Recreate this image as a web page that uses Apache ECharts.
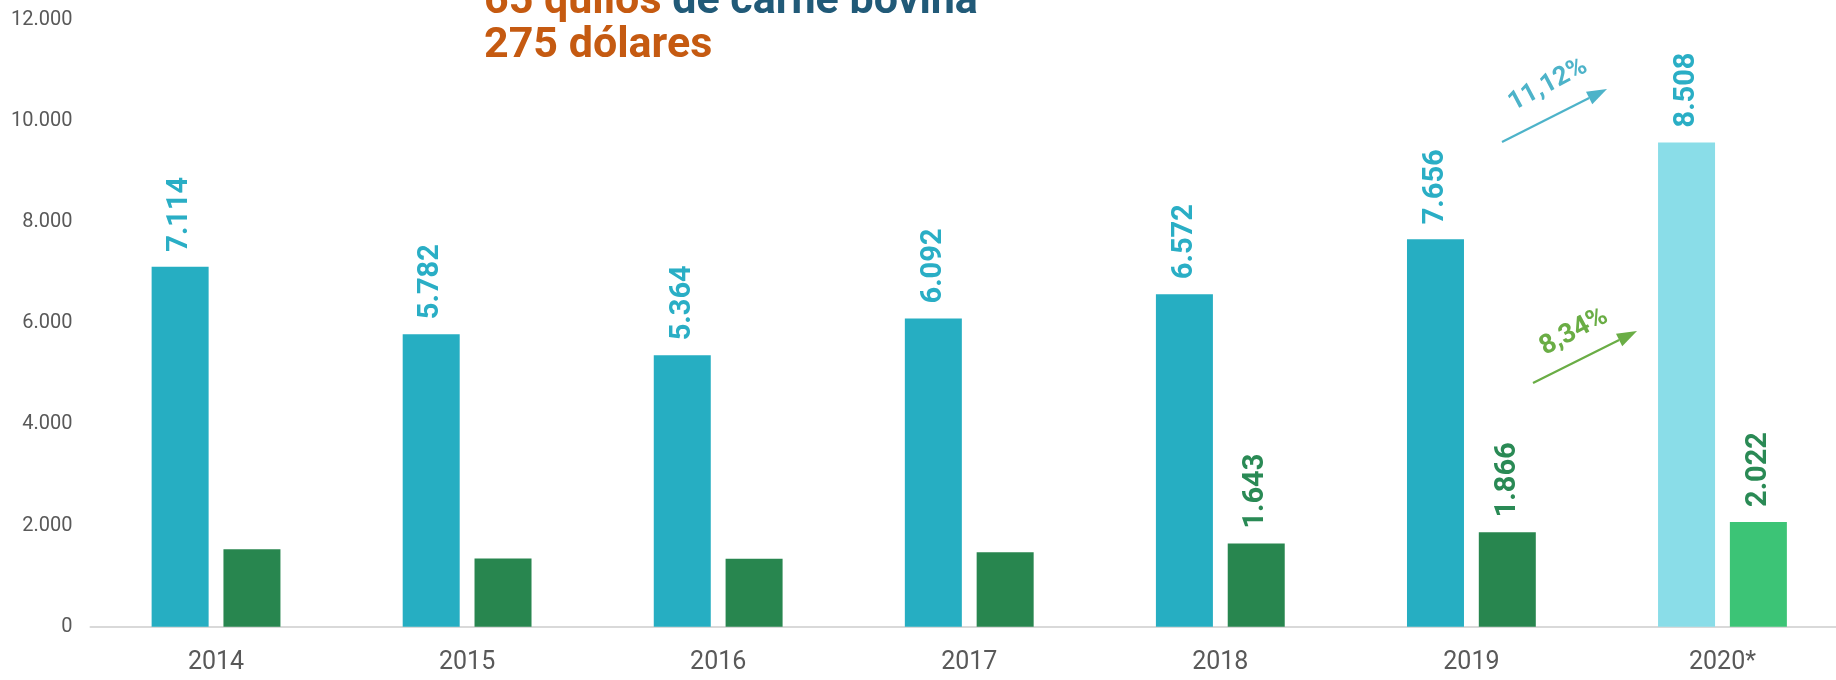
<!DOCTYPE html>
<html>
<head>
<meta charset="utf-8">
<script src="https://cdn.jsdelivr.net/npm/echarts@6/dist/echarts.min.js"></script>
<style>
  html, body { margin: 0; padding: 0; background: #fff; overflow: hidden; }
  /* the plot runs a little past the right edge of the picture, as in the original */
  #chart { width: 1848px; height: 680px; }
</style>
</head>
<body>
<div id="chart"></div>
<script>
const years = ['2014', '2015', '2016', '2017', '2018', '2019', '2020*'];
// bar heights as drawn (2020 bars are projections, drawn taller than their labels)
const beefValues = [7114, 5782, 5364, 6092, 6572, 7656, 9570];
const beefLabels = ['7.114', '5.782', '5.364', '6.092', '6.572', '7.656', '8.508'];
const otherValues = [1533, 1347, 1341, 1473, 1643, 1866, 2069];
const otherLabels = ['', '', '', '', '1.643', '1.866', '2.022'];
const yTicks = [0, 2000, 4000, 6000, 8000, 10000, 12000];

const CYAN = '#26aec2';
const CYAN_LIGHT = '#8adde8';
const GREEN = '#28864f';
const GREEN_LIGHT = '#3cc476';
const FONT = 'Roboto, "Noto Sans", sans-serif';

const chart = echarts.init(document.getElementById('chart'));

function fmt(v) {
  return v.toLocaleString('de-DE');
}

function barData(values, labels, color, lastColor) {
  return values.map((v, i) => ({
    value: v,
    label: { formatter: labels[i] },
    itemStyle: { color: i === values.length - 1 ? lastColor : color },
  }));
}

const labelBase = {
  show: true,
  position: 'top',
  distance: 15,
  rotate: 90,
  align: 'left',
  verticalAlign: 'middle',
  fontFamily: FONT,
  fontWeight: 'bold',
  fontSize: 29,
};

function arrow(x1, y1, x2, y2, color) {
  const ang = Math.atan2(y2 - y1, x2 - x1);
  const len = 20, half = 7;
  const bx = x2 - len * Math.cos(ang), by = y2 - len * Math.sin(ang);
  const px = -Math.sin(ang) * half, py = Math.cos(ang) * half;
  return [
    {
      type: 'line',
      shape: { x1: x1, y1: y1, x2: bx, y2: by },
      style: { stroke: color, lineWidth: 2.2 },
    },
    {
      type: 'polygon',
      shape: { points: [[x2, y2], [bx + px, by + py], [bx - px, by - py]] },
      style: { fill: color },
    },
  ];
}

const option = {
  animation: false,
  grid: { left: 90.5, right: 0, top: 19.5, bottom: 53.3 },
  xAxis: {
    type: 'category',
    data: years,
    axisTick: { show: false },
    axisLine: { lineStyle: { color: '#d9d9d9', width: 2 } },
    axisLabel: { color: '#595959', fontSize: 25, fontFamily: FONT, margin: 24 },
  },
  yAxis: {
    type: 'value',
    min: 0,
    max: 12000,
    interval: 2000,
    axisLine: { show: false },
    axisTick: { show: false },
    splitLine: { show: false },
    axisLabel: {
      color: '#595959',
      fontSize: 20,
      fontFamily: FONT,
      margin: 18,
      formatter: v => (yTicks.includes(v) ? fmt(v) : ''),
    },
  },
  series: [
    {
      type: 'bar',
      barWidth: 57,
      barGap: '26%',
      data: barData(beefValues, beefLabels, CYAN, CYAN_LIGHT),
      label: Object.assign({}, labelBase, { color: '#2aaec5' }),
    },
    {
      type: 'bar',
      barWidth: 57,
      data: barData(otherValues, otherLabels, GREEN, GREEN_LIGHT),
      label: Object.assign({}, labelBase, { color: '#2a8a55' }),
    },
  ],
  graphic: [
    {
      type: 'text',
      left: 484,
      top: -19,
      style: {
        text: '{o|65 quilos} {b|de carne bovina}',
        rich: {
          o: { fill: '#c55a11', fontSize: 43, fontWeight: 'bold', fontFamily: FONT },
          b: { fill: '#215a78', fontSize: 43, fontWeight: 'bold', fontFamily: FONT },
        },
        fontSize: 43,
        fontWeight: 'bold',
        fontFamily: FONT,
      },
    },
    {
      type: 'text',
      left: 484,
      top: 25,
      style: {
        text: '275 dólares',
        fill: '#c55a11',
        fontSize: 43,
        fontWeight: 'bold',
        fontFamily: FONT,
      },
    },
    ...arrow(1502, 142, 1607, 89, '#4db3c9'),
    ...arrow(1533, 383, 1637, 331, '#6aad45'),
    {
      type: 'text',
      x: 1548,
      y: 85,
      rotation: 0.49,
      style: {
        text: '11,12%',
        fill: '#4db3c9',
        fontSize: 26,
        fontWeight: 'bold',
        fontFamily: FONT,
        align: 'center',
        verticalAlign: 'middle',
      },
    },
    {
      type: 'text',
      x: 1574,
      y: 332,
      rotation: 0.49,
      style: {
        text: '8,34%',
        fill: '#6aad45',
        fontSize: 27,
        fontWeight: 'bold',
        fontFamily: FONT,
        align: 'center',
        verticalAlign: 'middle',
      },
    },
  ],
};

chart.setOption(option);
</script>
</body>
</html>
